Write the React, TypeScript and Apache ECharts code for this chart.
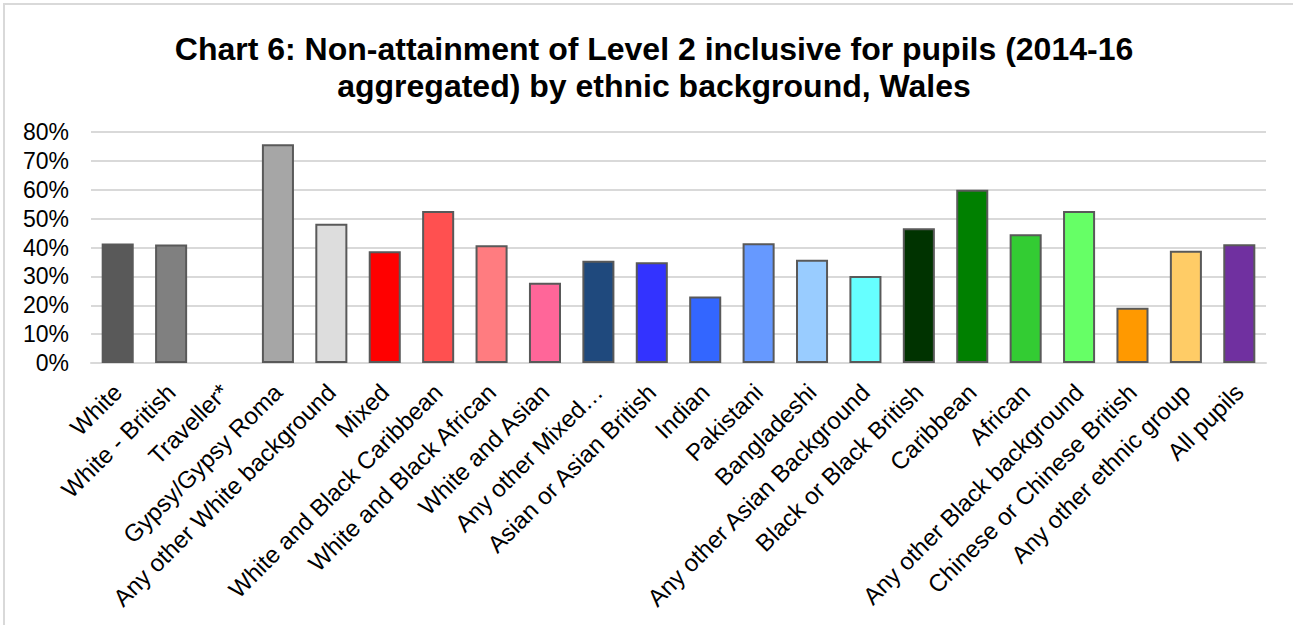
import React, { useEffect, useRef } from "react";
import * as echarts from "echarts";

// Ethnic background categories along the x axis
const categories: string[] = [
  "White",
  "White - British",
  "Traveller*",
  "Gypsy/Gypsy Roma",
  "Any other White background",
  "Mixed",
  "White and Black Caribbean",
  "White and Black African",
  "White and Asian",
  "Any other Mixed…",
  "Asian or Asian British",
  "Indian",
  "Pakistani",
  "Bangladeshi",
  "Any other Asian Background",
  "Black or Black British",
  "Caribbean",
  "African",
  "Any other Black background",
  "Chinese or Chinese British",
  "Any other ethnic group",
  "All pupils",
];

// Share of pupils not attaining Level 2 inclusive (%); Traveller* suppressed
const nonAttainment: (number | null)[] = [
  41.4, 41.0, null, 75.8, 48.2, 38.7, 52.6, 40.8, 27.8, 35.4, 34.9,
  23.0, 41.5, 35.8, 30.1, 46.7, 60.0, 44.6, 52.6, 19.1, 38.9, 41.1,
];

// Fill colour of each bar
const barColors: string[] = [
  "#595959", "#808080", "#bfbfbf", "#a6a6a6", "#dddddd", "#ff0000",
  "#ff5050", "#ff7c80", "#ff6699", "#1f497d", "#3333ff", "#3366ff",
  "#6699ff", "#99ccff", "#66ffff", "#003300", "#008000", "#33cc33",
  "#66ff66", "#ff9900", "#ffcc66", "#7030a0",
];

const yTicks = { min: 0, max: 80, interval: 10 };

export default function App() {
  const ref = useRef<HTMLDivElement>(null);

  useEffect(() => {
    if (!ref.current) return;
    const chart = echarts.init(ref.current, undefined, { renderer: "svg" });
    const font = "Liberation Sans, Arial, sans-serif";
    chart.setOption({
      animation: false,
      backgroundColor: "#ffffff",
      title: {
        text: "Chart 6: Non-attainment of Level 2 inclusive for pupils (2014-16\naggregated) by ethnic background, Wales",
        left: 649,
        top: 25,
        textAlign: "center",
        textStyle: {
          fontFamily: font,
          fontSize: 32,
          fontWeight: "bold",
          color: "#000000",
          lineHeight: 37,
        },
      },
      graphic: [
        {
          type: "rect",
          shape: { x: 4, y: 4, width: 1300, height: 640 },
          style: { fill: "none", stroke: "#d9d9d9", lineWidth: 2 },
          silent: true,
          z: -1,
        },
      ],
      grid: { left: 91, right: 27, top: 132, bottom: 262, containLabel: false },
      xAxis: {
        type: "category",
        data: categories,
        axisLine: { show: true, lineStyle: { color: "#d9d9d9", width: 2 } },
        axisTick: { show: false },
        axisLabel: {
          interval: 0,
          rotate: 45,
          margin: 25,
          fontFamily: font,
          fontSize: 24,
          color: "#000000",
        },
      },
      yAxis: {
        type: "value",
        min: yTicks.min,
        max: yTicks.max,
        interval: yTicks.interval,
        axisLine: { show: false },
        axisTick: { show: false },
        splitLine: { lineStyle: { color: "#d9d9d9", width: 2 } },
        axisLabel: {
          formatter: "{value}%",
          margin: 22,
          fontFamily: font,
          fontSize: 23,
          color: "#000000",
        },
      },
      series: [
        {
          type: "bar",
          barCategoryGap: "40%",
          data: nonAttainment.map((v, i) => ({
            value: v,
            itemStyle: {
              color: barColors[i],
              borderColor: "#595959",
              borderWidth: 2,
            },
          })),
        },
      ],
    });
    return () => chart.dispose();
  }, []);

  return (
    <div
      ref={ref}
      style={{ position: "absolute", left: 0, top: 0, width: 1293, height: 625 }}
    />
  );
}
